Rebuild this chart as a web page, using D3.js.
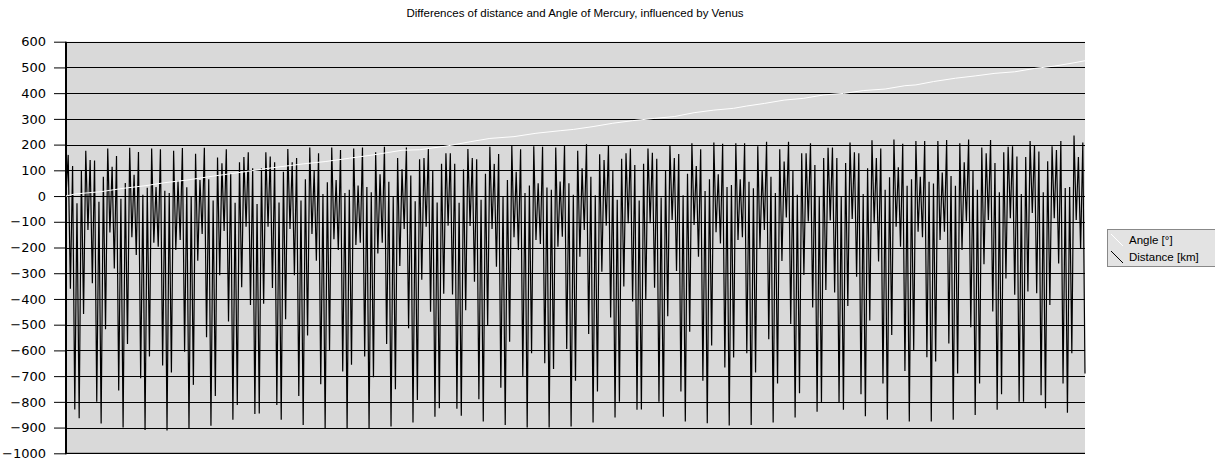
<!DOCTYPE html>
<html>
<head>
<meta charset="utf-8">
<script src="https://cdn.jsdelivr.net/npm/d3@7"></script>
<style>
  html, body { margin: 0; padding: 0; background: #ffffff; }
  svg { display: block; }
</style>
</head>
<body>
<div id="chart"></div>
<script>
// ---- data ----
const title = "Differences of distance and Angle of Mercury, influenced by Venus";
const seriesNames = ["Angle [°]", "Distance [km]"];
const yTicks = [600, 500, 400, 300, 200, 100, 0, -100, -200, -300, -400, -500, -600, -700, -800, -900, -1000];

// Distance [km], one value per step
const distance = [
  0, 160, -360, 117, -830, -28, -864, 97, -458, 176, -132, 140, -339, 138, -800, -22, -884, 75, -518, 185,
  -142, 114, -282, 156, -756, -11, -900, 51, -575, 188, -160, 83, -229, 171, -708, 5, -909, 32, -624, 185,
  -181, 35, -197, 182, -659, 21, -911, 12, -686, 176, -210, 59, -171, 187, -605, 34, -906, -2, -734, 164,
  -251, 62, -147, 188, -549, 65, -893, -17, -777, 150, -308, 127, -136, 182, -488, 88, -870,
  -26, -812, 131, -354, 152, -119, 170, -423, 108, -847, -31, -845, 108, -419, 170, -119, 154, -357, 131, -812,
  -25, -870, 94, -479, 183, -128, 131, -308, 148, -777, -17, -890, 65, -542, 189, -147, 98, -251, 166, -732,
  8, -903, 54, -600, 189, -168, 62, -210, 179, -682, 12, -906, 24, -656, 185, -190, 41, -181, 189, -624,
  35, -903, 15, -704, 170, -223, 85, -181, 192, -575, 56, -896, -2, -751, 148, -272, 104, -128,
  189, -514, 80, -880, -20, -793, 143, -325, 148, -119, 183, -450, 101, -858, -25, -825, 126, -380, 166, -115,
  166, -383, 126, -827, -26, -854, 103, -444, 183, -116, 148, -333, 143, -790, -14, -876, 87, -505, 192, -128,
  125, -275, 163, -745, 0, -890, 62, -566, 196, -160, 94, -210, 182, -702, 12, -900, 41, -611, 194, -171,
  50, -186, 192, -650, 33, -900, 24, -672, 189, -197, 56, -158, 198, -595, 50, -896, 5,
  -718, 176, -236, 108, -132, 201, -536, 75, -880, 3, -760, 162, -294, 140, -115, 198, -472, 97, -861, -14,
  -800, 145, -352, 166, -106, 185, -410, 121, -831, -17, -830, 126, -404, 185, -106, 168, -356, 145, -800, -6,
  -858, 101, -467, 198, -93, 148, -291, 163, -760, 3, -876, 87, -527, 205, -112, 117, -236, 182, -718, 20,
  -883, 65, -581, 208, -141, 85, -184, 203, -666, 35, -892, 43, -628, 205, -171, 65, -160, 205,
  -611, 56, -890, 30, -686, 194, -203, 101, -132, 211, -557, 75, -880, 12, -729, 182, -252, 134, -83, 211,
  -497, 97, -861, 5, -767, 166, -307, 166, -99, 205, -433, 121, -838, -2, -803, 148, -365, 188, -95, 189,
  -375, 148, -804, -2, -831, 128, -427, 208, -89, 170, -314, 166, -770, 8, -856, 108, -484, 217, -106, 148,
  -254, 185, -729, 24, -870, 73, -540, 220, -119, 112, -197, 203, -680, 40, -876, 65,
  -600, 214, -139, 75, -160, 214, -627, 56, -876, 49, -643, 214, -171, 91, -139, 218, -573, 78, -870, 40,
  -690, 205, -210, 131, -99, 220, -510, 101, -851, 24, -729, 189, -265, 166, -93, 218, -449, 128, -831, 15,
  -770, 170, -320, 192, -86, 194, -384, 154, -800, 8, -800, 152, -371, 214, -66, 198, -378, 173, -774, 15,
  -825, 135, -423, 194, -86, 179, -262, 214, -729, 31, -842, 35, -611, 235, -93, 152, -206, 208, -690
];

// Angle [°], read at selected steps (step index, value)
const angleSteps  = [0, 4, 16, 26, 36, 45, 55, 65, 76, 94, 108, 118, 129, 140, 153, 161, 173, 184, 193, 204,
  214, 225, 231, 240, 249, 258, 268, 277, 286, 295, 304, 310, 318, 327, 336, 345, 354, 363, 373, 382,
  387, 395, 405, 414, 423, 432, 441, 450, 459, 464];
const angleValues = [0, 8, 17, 30, 40, 52, 62, 75, 88, 110, 125, 134, 147, 160, 178, 180, 194, 211, 224, 231,
  244, 254, 259, 270, 283, 293, 302, 309, 324, 334, 341, 350, 360, 373, 380, 393, 399, 410, 416, 429,
  432, 445, 458, 467, 477, 483, 496, 505, 518, 526];

// ---- drawing ----
const W = 1215, H = 460;
const plot = { left: 66, right: 1085, top: 41.7, bottom: 453.3 };

const svg = d3.select("#chart").append("svg")
  .attr("width", W).attr("height", H);

const x = d3.scaleLinear().domain([0, distance.length - 1]).range([plot.left, plot.right]);
const y = d3.scaleLinear().domain([-1000, 600]).range([plot.bottom, plot.top]);

// plot area background
svg.append("rect")
  .attr("x", plot.left).attr("y", plot.top)
  .attr("width", plot.right - plot.left).attr("height", plot.bottom - plot.top)
  .attr("fill", "#d9d9d9");

// gridlines
svg.append("g")
  .selectAll("line").data(yTicks).join("line")
  .attr("x1", plot.left).attr("x2", plot.right)
  .attr("y1", d => Math.round(y(d)) + 0.5).attr("y2", d => Math.round(y(d)) + 0.5)
  .attr("stroke", "#000").attr("stroke-width", 1);

// y axis
const yAxis = d3.axisLeft(y).tickValues(yTicks).tickSize(12).tickPadding(8).tickFormat(d3.format("d"));
const gy = svg.append("g").attr("transform", `translate(${plot.left},0)`).call(yAxis);
gy.select(".domain").remove();
gy.selectAll(".tick line").attr("stroke", "#000");
gy.selectAll(".tick text")
  .attr("font-family", "DejaVu Sans, sans-serif").attr("font-size", 13).attr("fill", "#000");

// axis lines
svg.append("line")
  .attr("x1", plot.left).attr("x2", plot.left)
  .attr("y1", plot.top).attr("y2", plot.bottom + 1)
  .attr("stroke", "#000").attr("stroke-width", 2);
svg.append("line")
  .attr("x1", plot.left).attr("x2", plot.right)
  .attr("y1", plot.bottom).attr("y2", plot.bottom)
  .attr("stroke", "#000").attr("stroke-width", 1);

// distance line
const lineD = d3.line().x((d, i) => x(i)).y(d => y(d));
svg.append("path").datum(distance)
  .attr("d", lineD).attr("fill", "none")
  .attr("stroke", "#000").attr("stroke-width", 1.2);

// angle line
const angle = angleSteps.map((s, i) => [s, angleValues[i]]);
const lineA = d3.line().x(d => x(d[0])).y(d => y(d[1]));
svg.append("path").datum(angle)
  .attr("d", lineA).attr("fill", "none")
  .attr("stroke", "#ffffff").attr("stroke-width", 1);

// title
svg.append("text")
  .attr("x", 575).attr("y", 17)
  .attr("text-anchor", "middle")
  .attr("font-family", "Liberation Sans, Arial, sans-serif").attr("font-size", 11.5)
  .attr("fill", "#000")
  .text(title);

// legend
const lg = svg.append("g").attr("transform", "translate(1107,229)");
lg.append("rect").attr("x", 0.5).attr("y", 0.5).attr("width", 120).attr("height", 37)
  .attr("fill", "#e3e3e3").attr("stroke", "#888").attr("stroke-width", 1);
const legColors = ["#ffffff", "#000000"];
seriesNames.forEach((name, i) => {
  const cy = 11 + i * 17;
  lg.append("line")
    .attr("x1", 4).attr("y1", cy - 6).attr("x2", 16).attr("y2", cy + 6)
    .attr("stroke", legColors[i]).attr("stroke-width", 1);
  lg.append("text")
    .attr("x", 22).attr("y", cy + 4)
    .attr("font-family", "Liberation Sans, Arial, sans-serif").attr("font-size", 11.5)
    .attr("fill", "#000").text(name);
});
</script>
</body>
</html>
